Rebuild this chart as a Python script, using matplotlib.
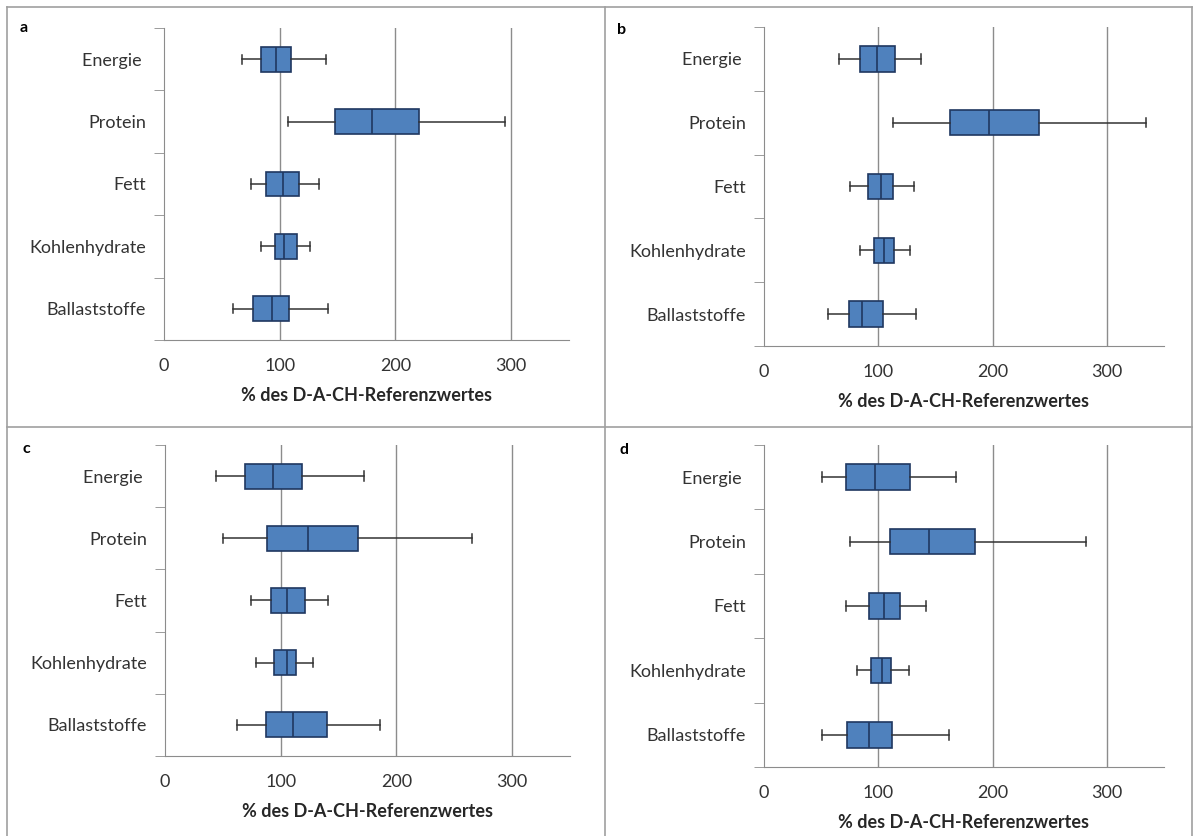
import matplotlib
matplotlib.use("Agg")
import matplotlib.pyplot as plt
from matplotlib.lines import Line2D

plt.rcParams["font.family"] = ["Lato", "DejaVu Sans"]

CATEGORIES = ["Energie ", "Protein", "Fett", "Kohlenhydrate", "Ballaststoffe"]
PANELS = ["a", "b", "c", "d"]
XTICKS = [0, 100, 200, 300]
XLABEL = "% des D-A-CH-Referenzwertes"

# per panel, per category: lower whisker, q1, median, q3, upper whisker
WHISLO = {
    "a": [67, 107, 75, 84, 60],
    "b": [66, 113, 75, 84, 56],
    "c": [44, 50, 74, 79, 62],
    "d": [51, 75, 72, 81, 51],
}
Q1 = {
    "a": [84, 148, 88, 96, 77],
    "b": [84, 163, 91, 96, 74],
    "c": [69, 88, 92, 94, 87],
    "d": [72, 110, 92, 94, 73],
}
MED = {
    "a": [97, 180, 103, 104, 93],
    "b": [99, 197, 102, 105, 86],
    "c": [93, 124, 105, 105, 111],
    "d": [97, 144, 105, 103, 92],
}
Q3 = {
    "a": [110, 220, 117, 115, 108],
    "b": [115, 241, 113, 114, 104],
    "c": [118, 167, 121, 113, 140],
    "d": [128, 185, 119, 111, 112],
}
WHISHI = {
    "a": [140, 295, 134, 126, 142],
    "b": [137, 334, 131, 128, 133],
    "c": [172, 265, 141, 128, 186],
    "d": [168, 282, 142, 127, 162],
}

# axes rectangles in pixels (left, right, top, bottom) of the 1195x836 canvas
W, H = 1195, 836
AX_PX = {
    "a": (164, 569, 28, 340),
    "b": (764, 1164, 27, 346),
    "c": (165, 570, 445, 756),
    "d": (764, 1164, 445, 767),
}
LETTER_PX = {"a": (24, 28), "b": (622, 30), "c": (26, 449), "d": (624, 450)}

BOX_BLUE = "#4F81BD"
BOX_EDGE = "#1F3760"
GRID_GRAY = "#8C8C8C"
TEXT = "#333333"

fig = plt.figure(figsize=(W / 100, H / 100), dpi=100)

n = len(CATEGORIES)
positions = list(range(n, 0, -1))  # top to bottom

for p in PANELS:
    l, r, t, b = AX_PX[p]
    ax = fig.add_axes([l / W, 1 - b / H, (r - l) / W, (b - t) / H])
    stats = []
    for i, cat in enumerate(CATEGORIES):
        stats.append(dict(label=cat, whislo=WHISLO[p][i], q1=Q1[p][i], med=MED[p][i],
                          q3=Q3[p][i], whishi=WHISHI[p][i], fliers=[]))
    ax.bxp(stats, positions=positions, orientation="horizontal", widths=0.4, capwidths=0.15,
           patch_artist=True, showfliers=False,
           boxprops=dict(facecolor=BOX_BLUE, edgecolor=BOX_EDGE, linewidth=1.2),
           medianprops=dict(color=BOX_EDGE, linewidth=1.2),
           whiskerprops=dict(color="#333333", linewidth=1.1),
           capprops=dict(color="#333333", linewidth=1.1), zorder=3)

    ax.set_xlim(0, 350)
    ax.set_ylim(0.5, n + 0.5)
    ax.set_xticks(XTICKS)
    ax.tick_params(axis="x", length=0, pad=13, labelsize=13, colors=TEXT)
    for gx in XTICKS[1:]:
        ax.axvline(gx, color=GRID_GRAY, lw=1, zorder=1)

    ax.set_yticks(positions)
    ax.set_yticklabels(CATEGORIES)
    ax.set_yticks([k + 0.5 for k in range(n + 1)], minor=True)
    ax.tick_params(axis="y", which="major", length=0, pad=13, labelsize=13, colors=TEXT)
    ax.tick_params(axis="y", which="minor", length=7, color=GRID_GRAY)

    for side in ["top", "right"]:
        ax.spines[side].set_visible(False)
    for side in ["left", "bottom"]:
        ax.spines[side].set_color(GRID_GRAY)
    ax.set_xlabel(XLABEL, fontweight="bold", fontsize=13, color="#262626", labelpad=9)

    lx, ly = LETTER_PX[p]
    fig.text(lx / W, 1 - ly / H, p, fontweight="bold", fontsize=11.5, ha="center", va="center")

# panel frame
frame = dict(color="#A0A0A0", lw=1.2)
xs = [7 / W, 1192 / W]
ys = [1 - 7 / H, 0.0]
fig.add_artist(Line2D([xs[0], xs[1]], [ys[0], ys[0]], **frame))
fig.add_artist(Line2D([xs[0], xs[0]], [ys[0], ys[1]], **frame))
fig.add_artist(Line2D([xs[1], xs[1]], [ys[0], ys[1]], **frame))
fig.add_artist(Line2D([605 / W, 605 / W], [ys[0], ys[1]], **frame))
fig.add_artist(Line2D([xs[0], xs[1]], [1 - 427 / H, 1 - 427 / H], **frame))

fig.savefig("out.png", dpi=100)
